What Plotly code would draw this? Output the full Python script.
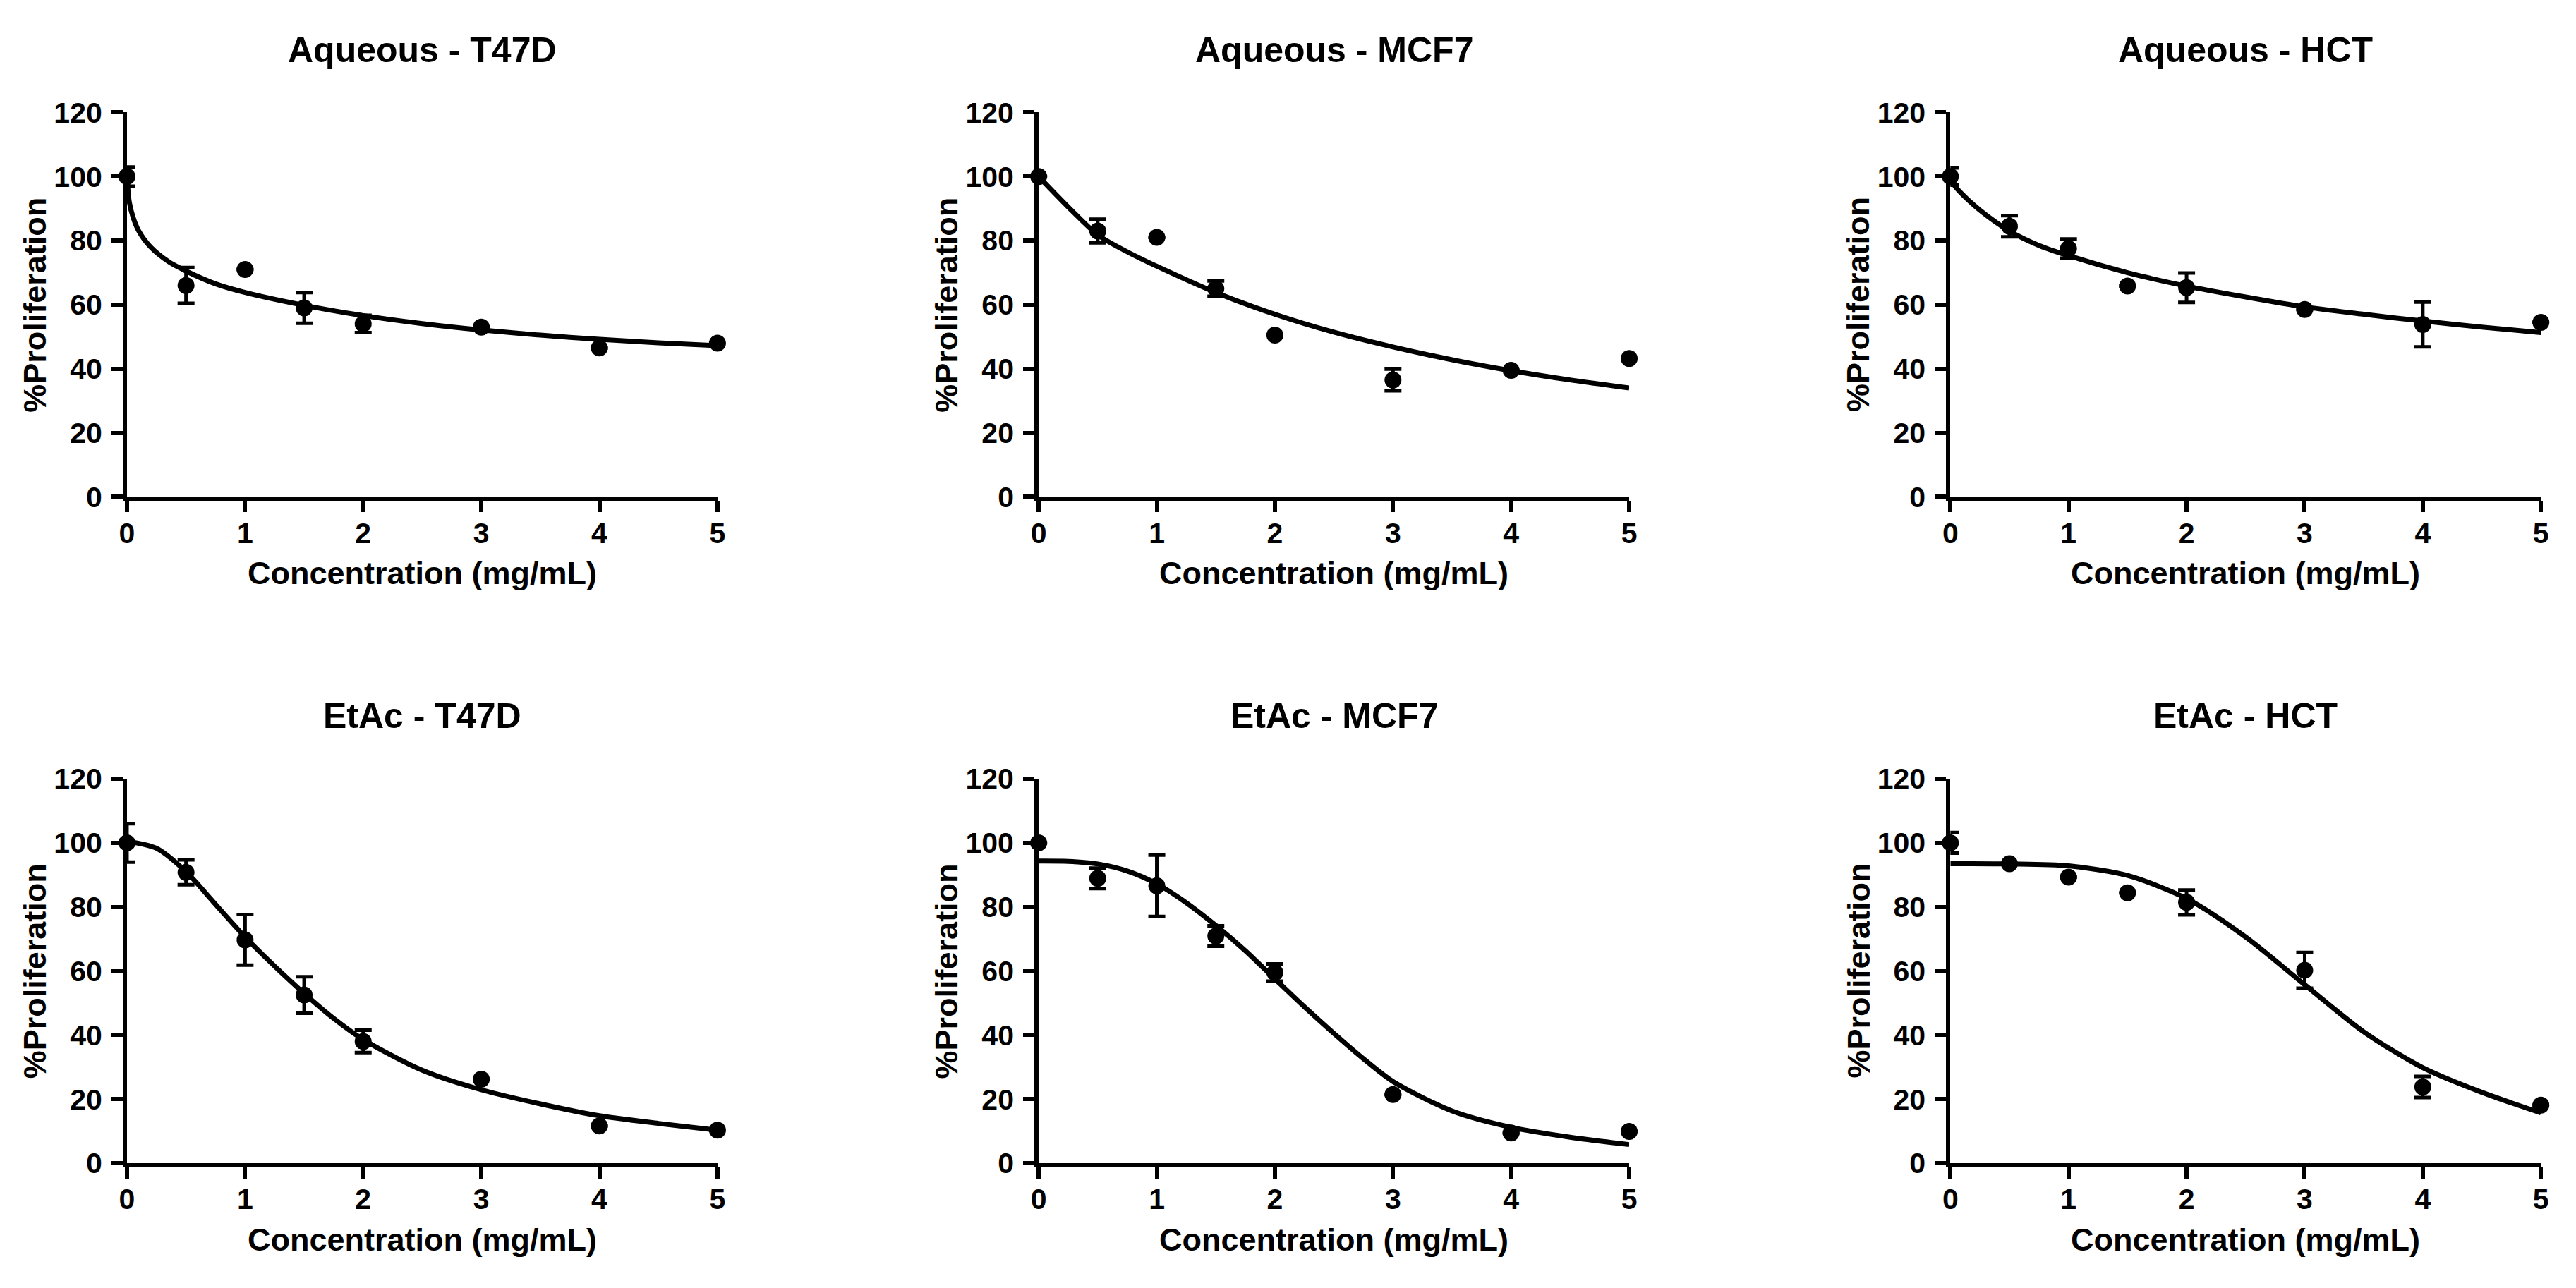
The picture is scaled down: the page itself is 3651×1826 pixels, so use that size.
import plotly.graph_objects as go

# concentrations tested (mg/mL)
conc = [0, 0.5, 1, 1.5, 2, 3, 4, 5]

# mean %proliferation and error for each extract / cell line
aq_t47d = [100, 66, 71, 59, 54, 53, 46.5, 48]
aq_t47d_err = [3, 5.6, 0, 4.8, 2.7, 0, 0, 0]
aq_mcf7 = [100, 83, 81, 65, 50.5, 36.5, 39.5, 43.2]
aq_mcf7_err = [0, 3.7, 0, 2.4, 0, 3.4, 0, 0]
aq_hct = [100, 84.5, 77.5, 65.8, 65.3, 58.5, 53.8, 54.5]
aq_hct_err = [2.7, 3.3, 3, 0, 4.6, 0, 7, 0]
et_t47d = [100, 90.8, 69.7, 52.5, 38, 26.2, 11.6, 10.3]
et_t47d_err = [6, 3.9, 7.9, 5.7, 3.5, 0, 0, 0]
et_mcf7 = [100, 88.9, 86.6, 70.9, 59.5, 21.4, 9.4, 9.9]
et_mcf7_err = [0, 3.2, 9.6, 3.2, 2.7, 0, 0, 0]
et_hct = [100, 93.5, 89.3, 84.4, 81.4, 60.2, 23.8, 18.1]
et_hct_err = [3.2, 0, 0, 0, 3.9, 5.6, 3.3, 0]

# fitted curves
aq_t47d_fit_x = [0, 0.02, 0.05, 0.1, 0.2, 0.35, 0.5, 0.75, 1, 1.5, 2, 2.5, 3, 3.5, 4, 4.5, 5]
aq_t47d_fit_y = [100, 92, 87.5, 83, 78, 73.5, 70.5, 66.5, 63.8, 59.8, 56.6, 54.1, 52.1, 50.5, 49.2, 48.1, 47.2]
aq_mcf7_fit_x = [0, 0.25, 0.5, 0.75, 1, 1.5, 2, 2.5, 3, 3.5, 4, 4.5, 5]
aq_mcf7_fit_y = [100, 90.5, 81.8, 76.5, 72, 63.8, 57, 51.4, 46.8, 42.8, 39.4, 36.5, 34]
aq_hct_fit_x = [0, 0.05, 0.1, 0.25, 0.5, 0.75, 1, 1.5, 2, 2.5, 3, 3.5, 4, 4.5, 5]
aq_hct_fit_y = [99, 96.5, 94.5, 89.5, 83, 78.5, 75.3, 70, 65.8, 62.4, 59.3, 57, 54.9, 53, 51.3]
et_t47d_fit_x = [0, 0.25, 0.5, 0.75, 1, 1.25, 1.5, 1.75, 2, 2.5, 3, 3.5, 4, 4.5, 5]
et_t47d_fit_y = [100.5, 98.3, 91, 80.8, 70.6, 61.5, 53, 45.2, 38.6, 29, 22.9, 18.5, 14.8, 12.4, 10.3]
et_mcf7_fit_x = [0, 0.25, 0.5, 0.75, 1, 1.25, 1.5, 1.75, 2, 2.25, 2.5, 2.75, 3, 3.5, 4, 4.5, 5]
et_mcf7_fit_y = [94.3, 94.2, 93.4, 91.2, 87.2, 81.3, 74.2, 66.3, 57.5, 48.8, 40.5, 32.6, 25.5, 16.3, 11.2, 8.1, 5.8]
et_hct_fit_x = [0, 0.5, 1, 1.5, 2, 2.5, 3, 3.5, 4, 4.5, 5]
et_hct_fit_y = [93.5, 93.4, 92.8, 89.8, 82.6, 70.6, 55.7, 41, 29.8, 22.1, 15.7]

titles = ["Aqueous - T47D", "Aqueous - MCF7", "Aqueous - HCT",
          "EtAc - T47D", "EtAc - MCF7", "EtAc - HCT"]
x_ticks = [0, 1, 2, 3, 4, 5]
y_ticks = [0, 20, 40, 60, 80, 100, 120]

panels = [
    (aq_t47d, aq_t47d_err, aq_t47d_fit_x, aq_t47d_fit_y),
    (aq_mcf7, aq_mcf7_err, aq_mcf7_fit_x, aq_mcf7_fit_y),
    (aq_hct, aq_hct_err, aq_hct_fit_x, aq_hct_fit_y),
    (et_t47d, et_t47d_err, et_t47d_fit_x, et_t47d_fit_y),
    (et_mcf7, et_mcf7_err, et_mcf7_fit_x, et_mcf7_fit_y),
    (et_hct, et_hct_err, et_hct_fit_x, et_hct_fit_y),
]

W, H = 3651, 1826
FONT = "Liberation Sans, Arial, sans-serif"
col_px = [(170, 1012), (1470, 2312), (2770, 3612)]
row_px = [(140, 699), (1109, 1668)]  # (top, bottom) in px from top

fig = go.Figure()
annotations = []

for i, (y, err, fx, fy) in enumerate(panels):
    r, c = divmod(i, 3)
    n = i + 1
    xa = "x" if n == 1 else f"x{n}"
    ya = "y" if n == 1 else f"y{n}"
    x0, x1 = col_px[c]
    top, bot = row_px[r]

    fig.add_trace(go.Scatter(
        x=fx, y=fy, mode="lines", xaxis=xa, yaxis=ya,
        line=dict(color="black", width=7, shape="spline", smoothing=0.8),
        cliponaxis=False, showlegend=False, hoverinfo="skip"))
    fig.add_trace(go.Scatter(
        x=conc, y=y, mode="markers", xaxis=xa, yaxis=ya,
        marker=dict(color="black", size=24),
        error_y=dict(type="data", array=err, visible=True,
                     color="black", thickness=5, width=12),
        cliponaxis=False, showlegend=False))

    axis_common = dict(
        showline=True, linecolor="black", linewidth=6, mirror=False,
        showgrid=False, zeroline=False, ticks="outside", ticklen=16,
        tickwidth=6, tickcolor="black",
        tickfont=dict(family=FONT, size=41, color="black", weight="bold"),
    )
    fig.layout[f"xaxis{'' if n == 1 else n}"] = dict(
        axis_common, domain=[x0 / W, x1 / W], anchor=ya,
        range=[0, 5], tickvals=x_ticks, ticklabelstandoff=-6)
    fig.layout[f"yaxis{'' if n == 1 else n}"] = dict(
        axis_common, domain=[1 - bot / H, 1 - top / H], anchor=xa,
        range=[0, 120], tickvals=y_ticks, ticklabelstandoff=5)

    cx = (x0 + x1) / 2 / W
    annotations.append(dict(
        text=titles[i], x=cx, y=1 - (top - 91) / H, xref="paper", yref="paper",
        xanchor="center", yanchor="middle", showarrow=False,
        font=dict(family=FONT, size=50, color="black", weight="bold")))
    annotations.append(dict(
        text="Concentration (mg/mL)", x=cx, y=1 - (bot + 111) / H,
        xref="paper", yref="paper", xanchor="center", yanchor="middle",
        showarrow=False,
        font=dict(family=FONT, size=45, color="black", weight="bold")))
    annotations.append(dict(
        text="%Proliferation", x=(x0 - 131) / W, y=1 - (top + bot) / 2 / H,
        xref="paper", yref="paper", xanchor="center", yanchor="middle",
        textangle=-90, showarrow=False,
        font=dict(family=FONT, size=45, color="black", weight="bold")))

fig.update_layout(
    width=W, height=H,
    margin=dict(l=0, r=0, t=0, b=0),
    paper_bgcolor="white", plot_bgcolor="white",
    font=dict(family=FONT, color="black", weight="bold"),
    annotations=annotations,
)

fig.write_html("out.html", config={"displayModeBar": False},
               post_script="document.body.style.margin='0';"
                           "document.body.style.overflow='hidden';")
